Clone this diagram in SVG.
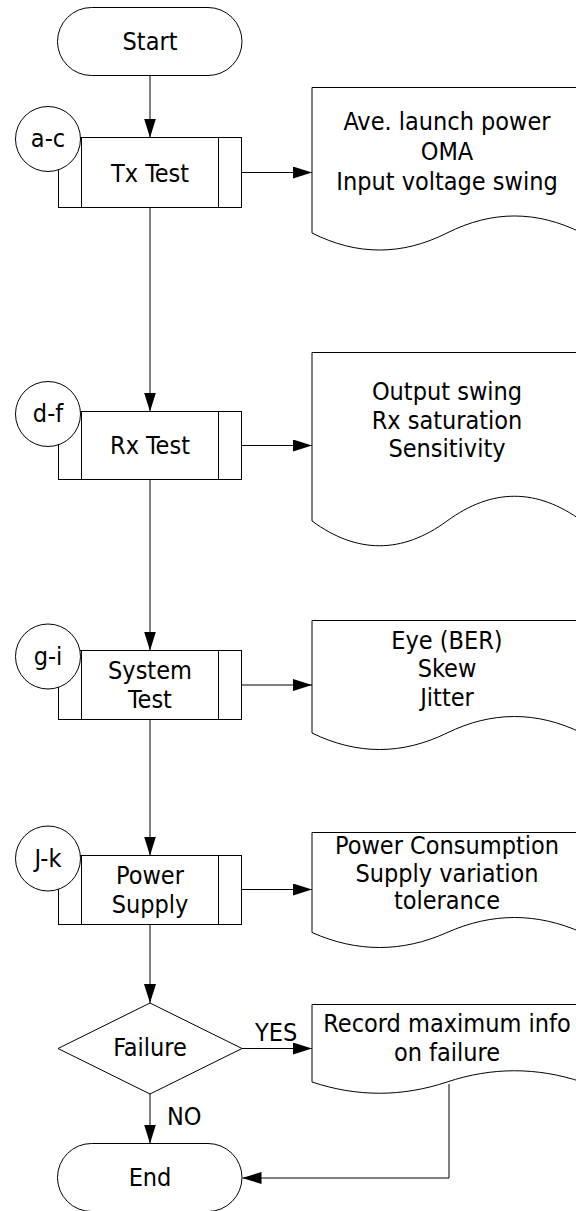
<svg xmlns="http://www.w3.org/2000/svg" width="576" height="1211" viewBox="0 0 576 1211">
<style>
.s{fill:#fff;stroke:#000;stroke-width:1}
.l{fill:none;stroke:#000;stroke-width:1}
text{font-family:"DejaVu Sans Condensed","DejaVu Sans",sans-serif;font-stretch:condensed;font-size:25px;fill:#000;text-anchor:middle}
.st{text-anchor:start}
</style>
<defs>
<marker id="ah" markerUnits="userSpaceOnUse" viewBox="0 0 19 12" refX="19" refY="6" markerWidth="19" markerHeight="12" orient="auto">
<path d="M0,0 L19,6 L0,12 Z" fill="#000"/>
</marker>
</defs>
<rect width="576" height="1211" fill="#fff"/>
<g id="connectors">
<path class="l" d="M150,76 V137.5" marker-end="url(#ah)"/>
<path class="l" d="M150,207.5 V411.5" marker-end="url(#ah)"/>
<path class="l" d="M150,479.5 V650.5" marker-end="url(#ah)"/>
<path class="l" d="M150,719.5 V855.5" marker-end="url(#ah)"/>
<path class="l" d="M150,924.5 V1003" marker-end="url(#ah)"/>
<path class="l" d="M150,1094 V1143.5" marker-end="url(#ah)"/>
<path class="l" d="M242,172.5 H312" marker-end="url(#ah)"/>
<path class="l" d="M242,445.5 H312" marker-end="url(#ah)"/>
<path class="l" d="M242,685 H312" marker-end="url(#ah)"/>
<path class="l" d="M242,889.5 H312" marker-end="url(#ah)"/>
<path class="l" d="M242,1048.5 H312" marker-end="url(#ah)"/>
<path class="l" d="M449,1084 V1178 H242.5" marker-end="url(#ah)"/>
<text class="st" x="255" y="1041">YES</text>
<text class="st" x="167" y="1125">NO</text>
</g>
<g id="start">
<rect class="s" x="57.5" y="7.5" width="184.5" height="68" rx="34"/>
<text x="150" y="50">Start</text>
</g>
<g id="tx-test">
<rect class="s" x="58.5" y="137.5" width="183" height="70"/>
<path class="l" d="M81.5,137.5 V207.5 M218.5,137.5 V207.5"/>
<text x="150" y="181.5">Tx Test</text>
</g>
<g id="ref-ac">
<circle class="s" cx="48" cy="139" r="32.5"/>
<text x="48" y="147">a-c</text>
</g>
<g id="tx-doc">
<path class="s" d="M312,87.5 H582 V233 C537,210.3 492,210.3 447,233 C402,255.7 357,255.7 312,233 Z"/>
<text x="447" y="130">Ave. launch power</text>
<text x="447" y="160">OMA</text>
<text x="447" y="189.5">Input voltage swing</text>
</g>
<g id="rx-test">
<rect class="s" x="58.5" y="411.5" width="183" height="68"/>
<path class="l" d="M81.5,411.5 V479.5 M218.5,411.5 V479.5"/>
<text x="150" y="454">Rx Test</text>
</g>
<g id="ref-df">
<circle class="s" cx="48" cy="414" r="32.5"/>
<text x="48" y="422">d-f</text>
</g>
<g id="rx-doc">
<path class="s" d="M312,352.5 H582 V521 C537,488 492,488 447,521 C402,554 357,554 312,521 Z"/>
<text x="447" y="400">Output swing</text>
<text x="447" y="429">Rx saturation</text>
<text x="447" y="457">Sensitivity</text>
</g>
<g id="system-test">
<rect class="s" x="58.5" y="650.5" width="183" height="69"/>
<path class="l" d="M81.5,650.5 V719.5 M218.5,650.5 V719.5"/>
<text x="150" y="679">System</text>
<text x="150" y="708">Test</text>
</g>
<g id="ref-gi">
<circle class="s" cx="48" cy="656.5" r="32.5"/>
<text x="48" y="665">g-i</text>
</g>
<g id="system-doc">
<path class="s" d="M312,620.5 H582 V733 C537,711 492,711 447,733 C402,755 357,755 312,733 Z"/>
<text x="447" y="649">Eye (BER)</text>
<text x="447" y="677">Skew</text>
<text x="447" y="706">Jitter</text>
</g>
<g id="power-supply">
<rect class="s" x="58.5" y="855.5" width="183" height="69"/>
<path class="l" d="M81.5,855.5 V924.5 M218.5,855.5 V924.5"/>
<text x="150" y="884">Power</text>
<text x="150" y="913">Supply</text>
</g>
<g id="ref-jk">
<circle class="s" cx="48" cy="858.5" r="32.5"/>
<text x="48" y="867">J-k</text>
</g>
<g id="power-doc">
<path class="s" d="M312,832.5 H582 V932.5 C537,912.5 492,912.5 447,932.5 C402,952.5 357,952.5 312,932.5 Z"/>
<text x="447" y="854">Power Consumption</text>
<text x="447" y="882">Supply variation</text>
<text x="447" y="909">tolerance</text>
</g>
<g id="failure">
<polygon class="s" points="150,1003 242,1048.5 150,1094 58,1048.5"/>
<text x="150" y="1056">Failure</text>
</g>
<g id="record-doc">
<path class="s" d="M312,1004.5 H582 V1082 C537,1067 492,1067 447,1082 C402,1097 357,1097 312,1082 Z"/>
<text x="447" y="1032">Record maximum info</text>
<text x="447" y="1061">on failure</text>
</g>
<g id="end">
<rect class="s" x="57.5" y="1143.5" width="184.5" height="68" rx="34"/>
<text x="150" y="1186">End</text>
</g>
</svg>
